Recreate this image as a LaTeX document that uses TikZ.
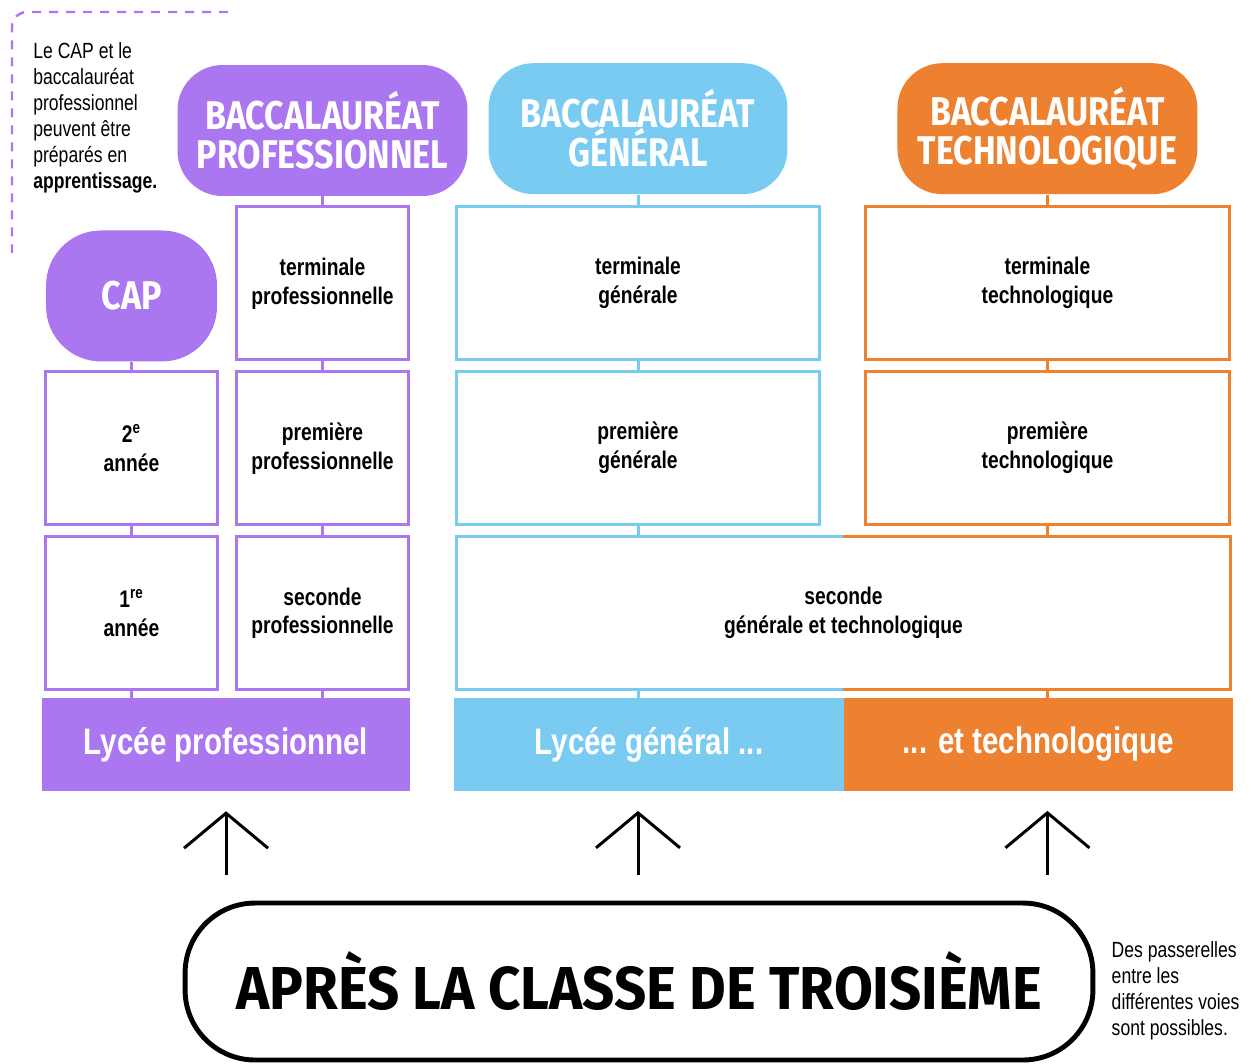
\documentclass[tikz,border=0pt]{standalone}
\usepackage{fontspec}
\setmainfont{Liberation Sans}[FakeStretch=0.8]
\newfontfamily\headfont{Fira Sans}[FakeStretch=0.85]
\newfontfamily\bigheadfont{Fira Sans}[FakeStretch=0.93]
\usepackage{tikz}
\definecolor{voiepro}{HTML}{AB77F0}
\definecolor{voiegen}{HTML}{7ACBF2}
\definecolor{voietec}{HTML}{EE8130}
\usetikzlibrary{positioning, arrows.meta}
\tikzstyle{phead} = [rectangle, fill=voiepro, text=white, align=center, rounded corners=0.9cm,
minimum width=5.8cm, minimum height=2.62cm, font=\headfont\bfseries\fontsize{22.8}{22.2}\selectfont]
\tikzstyle{ghead} = [phead, fill=voiegen, minimum width=5.98cm]
\tikzstyle{ohead} = [phead, fill=voietec, minimum width=6cm]
\tikzstyle{pbox} = [rectangle, draw=voiepro, line width=1.7pt, outer sep=0pt, align=center,
minimum width=3.44cm, minimum height=3.06cm, font=\bfseries\fontsize{13.7}{16.5}\selectfont]
\tikzstyle{gbox} = [pbox, draw=voiegen, minimum width=7.26cm]
\tikzstyle{obox} = [pbox, draw=voietec, minimum width=7.28cm]
\tikzstyle{sbox} = [pbox, draw=none, minimum width=15.48cm]
\tikzstyle{pband} = [rectangle, fill=voiepro, text=white, outer sep=0pt, minimum width=7.36cm, minimum height=1.86cm,
font=\bfseries\fontsize{21}{25}\selectfont]
\tikzstyle{gband} = [pband, fill=voiegen, minimum width=7.8cm]
\tikzstyle{oband} = [pband, fill=voietec, minimum width=7.78cm]
\tikzstyle{pline} = [voiepro, line width=1.7pt]
\tikzstyle{gline} = [voiegen, line width=1.7pt]
\tikzstyle{oline} = [voietec, line width=1.7pt]
\tikzstyle{uparrow} = [line width=1.7pt, -{Straight Barb[length=0.7cm, width=1.68cm]},
shorten <=0.52cm, shorten >=0.4cm]
\tikzstyle{endbox} = [rectangle, draw, line width=2.8pt, rounded corners=1.4cm,
minimum width=18.16cm, minimum height=3.14cm, font=\bigheadfont\bfseries\fontsize{34.5}{36}\selectfont]
\tikzstyle{note} = [align=left, inner sep=0pt, font=\fontsize{12.5}{14.8}\selectfont]
\tikzstyle{notedash} = [voiepro, line width=1.4pt, dash pattern=on 0.18cm off 0.16cm, rounded corners=0.3cm]

\begin{document}
\begin{tikzpicture}[x=0.02cm, y=-0.02cm]
	\useasboundingbox (0,0) rectangle (1251,1063);
	\draw [notedash] (228,12) -- (12,12) -- (12,253);
	\node (NoteCap) [note, anchor=north west] at (33,42) {Le CAP et le\\baccalauréat\\professionnel\\peuvent être\\préparés en\\\textbf{apprentissage.}};

	\node (BacPro) [phead] at (322.5,130.5) {BACCALAURÉAT\\PROFESSIONNEL};
	\node (TermPro) [pbox, below=0.21cm of BacPro] {terminale\\professionnelle};
	\node (PremPro) [pbox, below=0.24cm of TermPro] {première\\professionnelle};
	\node (SecPro) [pbox, below=0.24cm of PremPro] {seconde\\professionnelle};
	\node (AnCap2) [pbox, left=0.38cm of PremPro] {2\textsuperscript{e}\\année};
	\node (AnCap1) [pbox, left=0.38cm of SecPro] {1\textsuperscript{re}\\année};
	\node (Cap) [phead, minimum width=3.42cm, rounded corners=1.1cm, above=0.2cm of AnCap2] {CAP};
	\node (LycPro) [pband, below left=0.17cm and -0.03cm of SecPro.south east] {Lycée professionnel};

	\node (TermGen) [gbox] at (638,283) {terminale\\générale};
	\node (BacGen) [ghead, above=0.24cm of TermGen] {BACCALAURÉAT\\GÉNÉRAL};
	\node (PremGen) [gbox, below=0.24cm of TermGen] {première\\générale};
	\node (TermTec) [obox, right=0.92cm of TermGen] {terminale\\technologique};
	\node (BacTec) [ohead, above=0.24cm of TermTec] {BACCALAURÉAT\\TECHNOLOGIQUE};
	\node (PremTec) [obox, below=0.24cm of TermTec] {première\\technologique};
	\node (Seconde) [sbox, below right=0.24cm and 0cm of PremGen.south west] {seconde\\générale et technologique};
	\node (LycGen) [gband, below right=0.17cm and -0.05cm of Seconde.south west] {Lycée général ...};
	\node (LycTec) [oband, right=0cm of LycGen] {... et technologique};

	\node (Apres) [endbox] at (639,981.5) {APRÈS LA CLASSE DE TROISIÈME};
	\node (Passerelles) [note, right=0.32cm of Apres, yshift=-0.18cm] {Des passerelles\\entre les\\différentes voies\\sont possibles.};

	\draw [pline] (BacPro) -- (TermPro);
	\draw [pline] (TermPro) -- (PremPro);
	\draw [pline] (PremPro) -- (SecPro);
	\draw [pline] (SecPro.south) -- (SecPro.south |- LycPro.north);
	\draw [pline] (Cap) -- (AnCap2);
	\draw [pline] (AnCap2) -- (AnCap1);
	\draw [pline] (AnCap1.south) -- (AnCap1.south |- LycPro.north);
	\draw [gline] (BacGen) -- (TermGen);
	\draw [gline] (TermGen) -- (PremGen);
	\draw [gline] (PremGen.south) -- (PremGen.south |- Seconde.north);
	\draw [gline] (Seconde.south -| PremGen) -- (LycGen.north -| PremGen);
	\draw [oline] (BacTec) -- (TermTec);
	\draw [oline] (TermTec) -- (PremTec);
	\draw [oline] (PremTec.south) -- (PremTec.south |- Seconde.north);
	\draw [oline] (Seconde.south -| PremTec) -- (LycTec.north -| PremTec);
	\draw [gline] (Seconde.north) -| (Seconde.south west) -- (Seconde.south);
	\draw [oline] (Seconde.north) -| (Seconde.south east) -- (Seconde.south);

	\draw [uparrow] (Apres.north -| LycPro) -- (LycPro);
	\draw [uparrow] (Apres.north -| PremGen) -- (PremGen |- LycGen.south);
	\draw [uparrow] (Apres.north -| PremTec) -- (PremTec |- LycTec.south);
\end{tikzpicture}
\end{document}
